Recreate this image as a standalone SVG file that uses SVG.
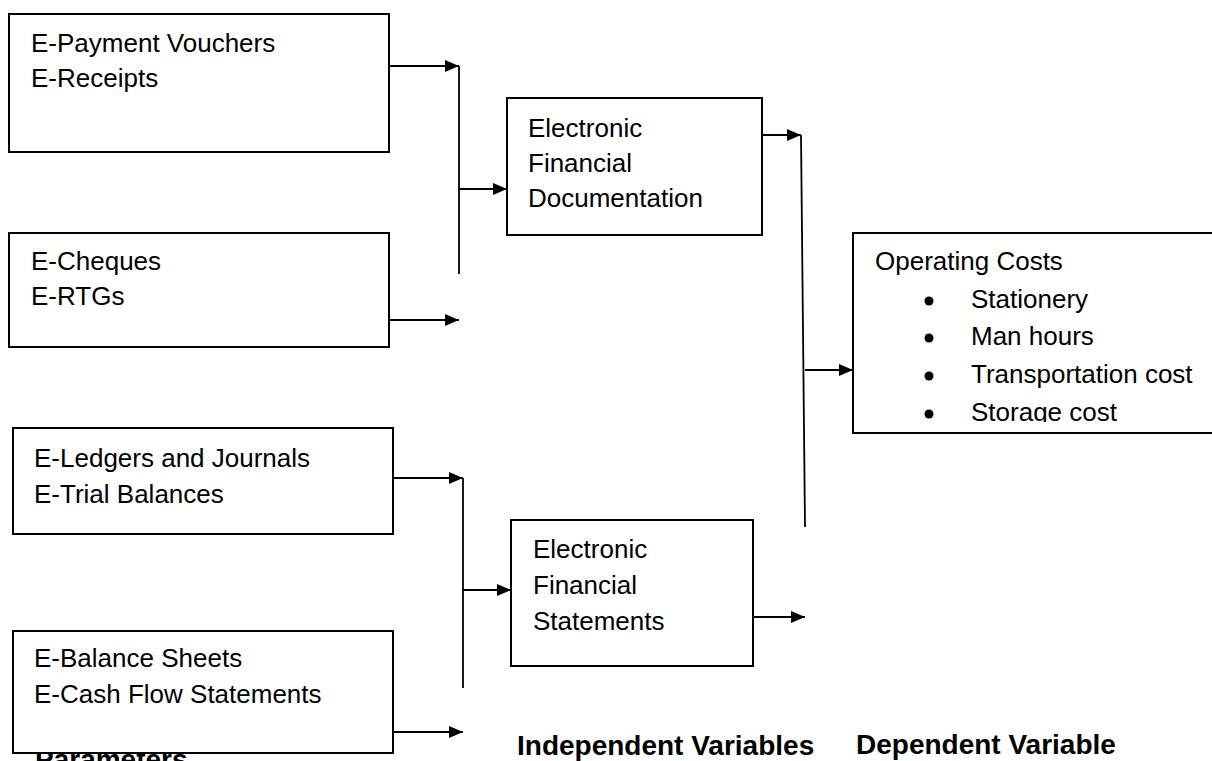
<svg xmlns="http://www.w3.org/2000/svg" width="1212" height="761" viewBox="0 0 1212 761">
<style>
.box{fill:#fff;stroke:#000;stroke-width:2}
.t{font-family:"Liberation Sans",Arial,sans-serif;font-size:26px;fill:#000}
.b{font-family:"Liberation Sans",Arial,sans-serif;font-size:28px;font-weight:bold;fill:#000}
.c{stroke:#000;stroke-width:1.8;fill:none}
</style>
<defs>
<marker id="ah" viewBox="0 0 14 12" refX="14" refY="6" markerWidth="14" markerHeight="12" markerUnits="userSpaceOnUse" orient="auto">
<path d="M0,0 L14,6 L0,12 z" fill="#000"/>
</marker>
<clipPath id="oc"><rect x="853" y="233" width="400" height="189"/></clipPath>
</defs>
<rect width="1212" height="761" fill="#fff"/>
<text class="b" x="35" y="769">Parameters</text>
<g id="n1"><rect class="box" x="9" y="14" width="380" height="138"/><text class="t" x="31" y="52">E-Payment Vouchers</text><text class="t" x="31" y="87">E-Receipts</text></g>
<g id="n2"><rect class="box" x="9" y="233" width="380" height="114"/><text class="t" x="31" y="270">E-Cheques</text><text class="t" x="31" y="305">E-RTGs</text></g>
<g id="n3"><rect class="box" x="507" y="98" width="255" height="137"/><text class="t" x="528" y="137">Electronic</text><text class="t" x="528" y="172">Financial</text><text class="t" x="528" y="207">Documentation</text></g>
<g id="n4"><rect class="box" x="853" y="233" width="380" height="200"/><g clip-path="url(#oc)"><text class="t" x="875" y="270">Operating Costs</text><circle cx="929" cy="301" r="4.5"/><text class="t" x="971" y="308">Stationery</text><circle cx="929" cy="338" r="4.5"/><text class="t" x="971" y="345">Man hours</text><circle cx="929" cy="376" r="4.5"/><text class="t" x="971" y="383">Transportation cost</text><circle cx="929" cy="414" r="4.5"/><text class="t" x="971" y="421">Storage cost</text></g></g>
<g id="n5"><rect class="box" x="13" y="428" width="380" height="106"/><text class="t" x="34" y="467">E-Ledgers and Journals</text><text class="t" x="34" y="503">E-Trial Balances</text></g>
<g id="n6"><rect class="box" x="511" y="520" width="242" height="146"/><text class="t" x="533" y="558">Electronic</text><text class="t" x="533" y="594">Financial</text><text class="t" x="533" y="630">Statements</text></g>
<g id="n7"><rect class="box" x="13" y="631" width="380" height="122"/><text class="t" x="34" y="667">E-Balance Sheets</text><text class="t" x="34" y="703">E-Cash Flow Statements</text></g>
<g id="connectors">
<line class="c" x1="389" y1="66" x2="459" y2="66" marker-end="url(#ah)"/>
<line class="c" x1="459" y1="66" x2="459" y2="274"/>
<line class="c" x1="459" y1="189" x2="507" y2="189" marker-end="url(#ah)"/>
<line class="c" x1="389" y1="320" x2="459" y2="320" marker-end="url(#ah)"/>
<line class="c" x1="762" y1="135" x2="801" y2="135" marker-end="url(#ah)"/>
<line class="c" x1="801" y1="135" x2="805" y2="527"/>
<line class="c" x1="805" y1="370" x2="853" y2="370" marker-end="url(#ah)"/>
<line class="c" x1="393" y1="478" x2="463" y2="478" marker-end="url(#ah)"/>
<line class="c" x1="463" y1="478" x2="463" y2="688"/>
<line class="c" x1="463" y1="590" x2="511" y2="590" marker-end="url(#ah)"/>
<line class="c" x1="753" y1="617" x2="805" y2="617" marker-end="url(#ah)"/>
<line class="c" x1="393" y1="732" x2="463" y2="732" marker-end="url(#ah)"/>
</g>
<text class="b" x="517" y="755">Independent Variables</text>
<text class="b" x="856" y="754">Dependent Variable</text>
</svg>
